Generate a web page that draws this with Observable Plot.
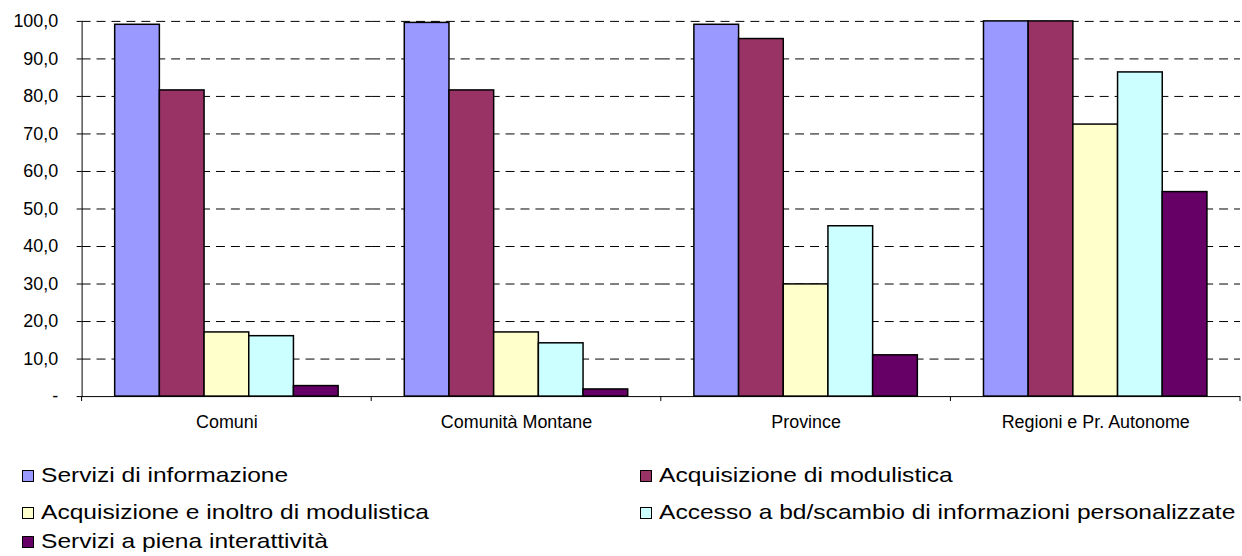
<!DOCTYPE html>
<html>
<head>
<meta charset="utf-8">
<script src="https://cdn.jsdelivr.net/npm/d3@7"></script>
<script src="https://cdn.jsdelivr.net/npm/@observablehq/plot@0.6"></script>
<style>
  html, body { margin: 0; padding: 0; background: #fff; overflow: hidden; width: 1242px; height: 556px; }
  #wrap { position: relative; width: 1242px; height: 556px; font-family: "Liberation Sans", Arial, sans-serif; }
  #chart { position: absolute; left: 0; top: 0; }
  .item { position: absolute; display: flex; align-items: center; white-space: nowrap; height: 24px; }
  .sw { width: 10px; height: 10px; border: 1px solid #000; box-sizing: content-box; flex: none; margin-top: 2px; }
  .lbl { font-size: 21px; color: #000; margin-left: 7px; transform: scaleX(1.17); transform-origin: left center; }
</style>
</head>
<body>
<div id="wrap">
  <div id="chart"></div>
  <div id="legend"></div>
</div>
<script>
const categories = ["Comuni", "Comunità Montane", "Province", "Regioni e Pr. Autonome"];
const seriesNames = [
  "Servizi di informazione",
  "Acquisizione di modulistica",
  "Acquisizione e inoltro di modulistica",
  "Accesso a bd/scambio di informazioni personalizzate",
  "Servizi a piena interattività"
];
const seriesColors = ["#9999FF", "#993366", "#FFFFCC", "#CCFFFF", "#660066"];
const serviziInformazione = [99.1, 99.6, 99.1, 100.0];
const acquisizioneModulistica = [81.6, 81.6, 95.3, 100.0];
const acquisizioneInoltro = [17.1, 17.1, 29.9, 72.5];
const accessoBd = [16.1, 14.2, 45.4, 86.4];
const pienaInterattivita = [2.8, 1.9, 11.0, 54.5];
const yTicks = [0, 10, 20, 30, 40, 50, 60, 70, 80, 90, 100];

const seriesValues = [serviziInformazione, acquisizioneModulistica, acquisizioneInoltro, accessoBd, pienaInterattivita];
const data = [];
categories.forEach((cat, i) => {
  seriesNames.forEach((s, j) => data.push({cat, series: s, value: seriesValues[j][i]}));
});

const fmt = d => d === 0 ? "-" : d.toFixed(1).replace(".", ",");

const chart = Plot.plot({
  width: 1248,
  height: 445,
  marginLeft: 81,
  marginRight: 1,
  marginTop: 21,
  marginBottom: 47,
  style: {fontFamily: "'Liberation Sans', Arial, sans-serif", fontSize: "18px", background: "transparent", color: "#000"},
  fx: {domain: categories, padding: 0, label: null, axis: "bottom", tickSize: 0, tickPadding: 19},
  x: {domain: seriesNames, paddingInner: 0, paddingOuter: 0.74, axis: null, round: false},
  y: {domain: [0, 100], ticks: yTicks, tickFormat: fmt, tickSize: 5, tickPadding: 19, label: null, line: true},
  color: {domain: seriesNames, range: seriesColors},
  marks: [
    Plot.gridY(yTicks.filter(d => d > 0), {stroke: "#000", strokeOpacity: 1, strokeWidth: 1, strokeDasharray: "9,6"}),
    Plot.barY(data, {fx: "cat", x: "series", y: "value", fill: "series", stroke: "#000", strokeWidth: 1.5}),
    Plot.ruleY([0], {stroke: "#000", strokeWidth: 1})
  ]
});

// category boundary ticks below the baseline, positioned through Plot's fx and y scales
const fxScale = chart.scale("fx");
const yScale = chart.scale("y");
const y0 = yScale.apply(0);
const bounds = categories.map(c => fxScale.apply(c));
bounds.push(fxScale.apply(categories[categories.length - 1]) + fxScale.bandwidth);
const svg = d3.select(chart);
svg.append("g").selectAll("line").data(bounds).join("line")
  .attr("x1", d => d).attr("x2", d => d)
  .attr("y1", y0).attr("y2", y0 + 5)
  .attr("stroke", "#000").attr("stroke-width", 1);

document.getElementById("chart").appendChild(chart);

// legend (two columns, three rows)
const legendCols = [22, 640];
const legendRows = [463, 500, 529];
const legend = document.getElementById("legend");
seriesNames.forEach((s, i) => {
  const item = document.createElement("div");
  item.className = "item";
  item.style.left = legendCols[i % 2] + "px";
  item.style.top = legendRows[Math.floor(i / 2)] + "px";
  const sw = document.createElement("div");
  sw.className = "sw";
  sw.style.background = seriesColors[i];
  const lbl = document.createElement("span");
  lbl.className = "lbl";
  lbl.textContent = s;
  item.appendChild(sw);
  item.appendChild(lbl);
  legend.appendChild(item);
});
</script>
</body>
</html>
